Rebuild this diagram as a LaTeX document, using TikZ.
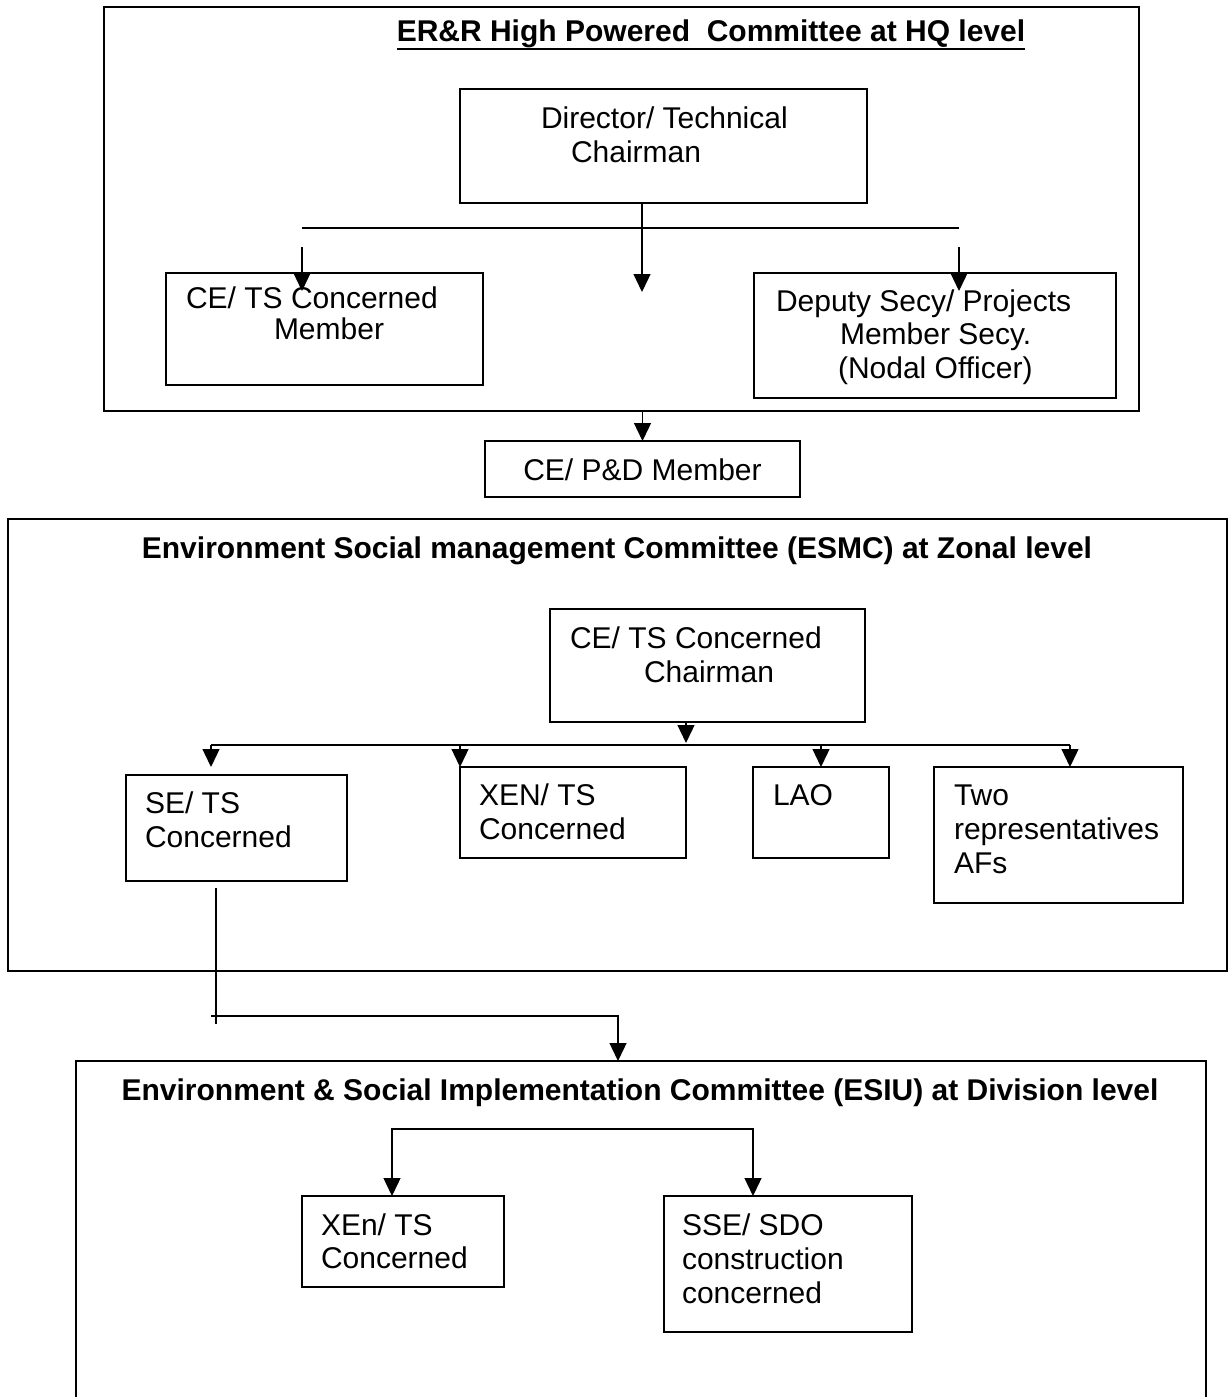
\documentclass[tikz,border=0pt]{standalone}
\usepackage{fontspec}
\setmainfont{Liberation Sans}
\usetikzlibrary{arrows.meta}
\begin{document}
\begin{tikzpicture}[x=1pt,y=-1pt,
  frame/.style={draw, line width=1.8pt, anchor=north west, inner sep=0pt, outer sep=0pt},
  box/.style={draw, line width=1.6pt, anchor=north west, inner sep=0pt, outer sep=0pt},
  txt/.style={anchor=base west, inner sep=0pt, outer sep=0pt, font=\fontsize{30}{34}\selectfont},
  ttl/.style={anchor=base, inner sep=0pt, outer sep=0pt, font=\fontsize{30}{34}\selectfont\bfseries},
  conn/.style={line width=1.3pt},
  arr/.style={conn, -{Triangle[length=18pt,width=17pt]}}]
\useasboundingbox (0,0) rectangle (1228,1397);

% ---------- HQ level ----------
\node[frame, minimum width=1035pt, minimum height=404pt] (hq) at (104,7) {};
\node[ttl] (hqtitle) at (711,42) {ER\&R High Powered\ \ Committee at HQ level};
\draw[line width=2.6pt] ([yshift=-7pt]hqtitle.base west) -- ([yshift=-7pt]hqtitle.base east);

\node[box, minimum width=407pt, minimum height=114pt] (dir) at (460,89) {};
\node[txt] (dirt) at (541,128) {\vtop{\hbox{Director/ Technical}\hbox{\hspace{30pt}Chairman}}};

\coordinate (busL) at (302,228);
\coordinate (busR) at (959,228);
\draw[conn] (busL) -- (busR);

\coordinate (midtip) at (642,292);
\draw[arr] (dir.south -| midtip) -- (midtip);

\node[box, minimum width=317pt, minimum height=112pt] (cets) at (166,273) {};
\node[txt] (cetst) at (186,308) {\vtop{\baselineskip=31pt\hbox{CE/ TS Concerned}\hbox{\hspace{88pt}Member}}};

\node[box, minimum width=362pt, minimum height=125pt] (dep) at (754,273) {};
\node[txt] (dept) at (776,311) {\vtop{\baselineskip=33.5pt\hbox{Deputy Secy/ Projects}\hbox{\hspace{64pt}Member Secy.}\hbox{\hspace{62pt}(Nodal Officer)}}};

\coordinate (lstart) at (302,247);
\coordinate (rstart) at (959,247);
\draw[arr] (lstart) -- ([yshift=-18pt]cets.north -| lstart);
\draw[arr] (rstart) -- ([yshift=-18pt]dep.north -| rstart);

% ---------- CE/ P&D ----------
\node[box, minimum width=315pt, minimum height=56pt] (cepd) at (485,441) {};
\node[txt, anchor=base] (cepdt) at (642.5,480) {CE/ P\&D Member};
\draw[arr] (cepd.north |- hq.south) -- (cepd.north);

% ---------- Zonal level ----------
\node[frame, minimum width=1219pt, minimum height=452pt] (esmc) at (8,519) {};
\node[ttl] (esmctitle) at (617,558) {Environment Social management Committee (ESMC) at Zonal level};

\node[box, minimum width=315pt, minimum height=113pt] (cetsc) at (550,609) {};
\node[txt] (cetsct) at (570,648) {\vtop{\hbox{CE/ TS Concerned}\hbox{\hspace{74pt}Chairman}}};

\coordinate (bus2L) at (211,745);
\coordinate (bus2R) at (1070,745);
\draw[conn] (bus2L) -- (bus2R);
\draw[arr] ([xshift=136pt]cetsc.south west) -- ++(0,21);

\node[box, minimum width=221pt, minimum height=106pt] (se) at (126,775) {};
\node[txt] (set) at (145,813) {\vtop{\hbox{SE/ TS}\hbox{Concerned}}};

\node[box, minimum width=226pt, minimum height=91pt] (xen) at (460,767) {};
\node[txt] (xent) at (479,805) {\vtop{\hbox{XEN/ TS}\hbox{Concerned}}};

\node[box, minimum width=136pt, minimum height=91pt] (lao) at (753,767) {};
\node[txt] (laot) at (773,805) {LAO};

\node[box, minimum width=249pt, minimum height=136pt] (two) at (934,767) {};
\node[txt] (twot) at (954,805) {\vtop{\hbox{Two}\hbox{representatives}\hbox{AFs}}};

\draw[arr] (bus2L) -- ++(0,22);
\draw[arr] (bus2L -| xen.north west) -- (xen.north west);
\draw[arr] ([xshift=68pt]bus2L -| lao.north west) -- ([xshift=68pt]lao.north west);
\draw[arr] (bus2R) -- (bus2R |- two.north);

% ---------- link to Division level ----------
\node[frame, minimum width=1130pt, minimum height=400pt] (esiu) at (76,1061) {};
\coordinate (vtop) at (216,888);
\coordinate (vbot) at (216,1024);
\coordinate (hL) at (211,1016);
\coordinate (hR) at (618,1016);
\draw[conn] (vtop) -- (vbot);
\draw[arr] (hL) -- (hR) -- (hR |- esiu.north);

% ---------- Division level ----------
\node[ttl] (esiutitle) at (640,1100) {Environment \& Social Implementation Committee (ESIU) at Division level};

\node[box, minimum width=202pt, minimum height=91pt] (xen2) at (302,1196) {};
\node[txt] (xen2t) at (321,1235) {\vtop{\baselineskip=33pt\hbox{XEn/ TS}\hbox{Concerned}}};

\node[box, minimum width=248pt, minimum height=136pt] (sse) at (664,1196) {};
\node[txt] (sset) at (682,1235) {\vtop{\hbox{SSE/ SDO}\hbox{construction}\hbox{concerned}}};

\coordinate (brk) at (572,1129);
\draw[arr] (brk) -| ([xshift=90pt]xen2.north west);
\draw[arr] (brk) -| ([xshift=89pt]sse.north west);
\end{tikzpicture}
\end{document}
